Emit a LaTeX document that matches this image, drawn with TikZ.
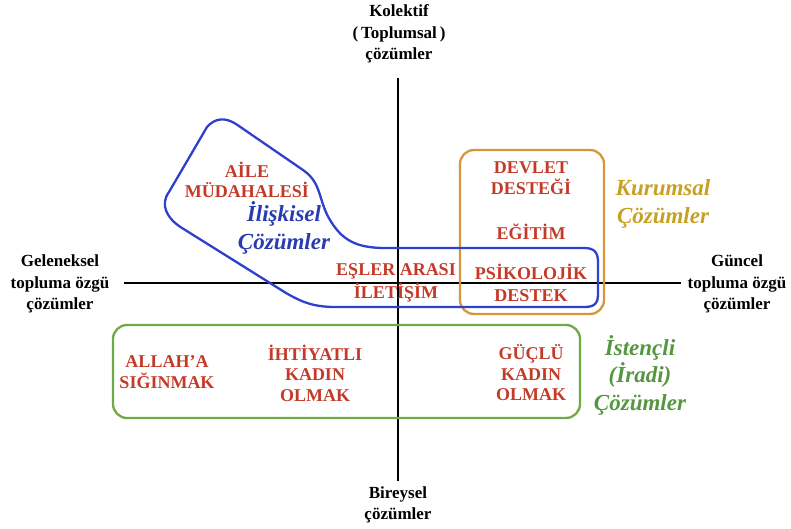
\documentclass[tikz,border=0pt]{standalone}
\usepackage{fontspec}
\setmainfont{Liberation Serif}
\definecolor{itemred}{RGB}{196,58,40}
\definecolor{bluel}{RGB}{45,65,205}
\definecolor{bluet}{RGB}{40,60,175}
\definecolor{orangel}{RGB}{215,150,60}
\definecolor{goldt}{RGB}{200,160,35}
\definecolor{greenl}{RGB}{110,170,70}
\definecolor{greent}{RGB}{85,150,65}
\begin{document}
\begin{tikzpicture}[x=1pt,y=-1pt,
  axislabel/.style={align=center,font=\fontsize{17}{21.3}\selectfont\bfseries,text=black,inner sep=0pt},
  item/.style={align=center,font=\fontsize{18}{20.5}\selectfont\bfseries,text=itemred,inner sep=0pt},
  itemwide/.style={item,font=\fontsize{18}{22.5}\selectfont\bfseries},
  group/.style={align=center,font=\fontsize{23}{27.5}\selectfont\bfseries\itshape,inner sep=0pt},
  axisline/.style={line width=1.8pt,black},
  bound/.style={line width=2.3pt}]
\useasboundingbox (0,0) rectangle (791,529);
% axes
\node[axislabel] (top) at (399,34) {Kolektif\\(\,Toplumsal\,)\\çözümler};
\node[axislabel] (bottom) at (398,505) {Bireysel\\çözümler};
\node[axislabel] (left) at (60,284) {Geleneksel\\topluma özgü\\çözümler};
\node[axislabel] (right) at (737,284) {Güncel\\topluma özgü\\çözümler};
\coordinate (vT) at (398,78);
\coordinate (vB) at (398,481);
\coordinate (hL) at (124,283);
\coordinate (hR) at (681,283);
\draw[axisline] (vT) -- (vB);
\draw[axisline] (hL) -- (hR);
% orange box
\draw[bound,orangel,rounded corners=14pt] (460,150) rectangle (604,314);
% blue shape
\draw[bound,bluel] (207,127) .. controls (215,118) and (225,117) .. (236,124) -- (303,170)
  .. controls (322,183) and (318,200) .. (330,220)
  .. controls (342,240) and (356,248) .. (385,248) -- (584,248)
  .. controls (594,248) and (598,252) .. (598,262) -- (598,294)
  .. controls (598,304) and (594,307) .. (584,307) -- (335,307)
  .. controls (312,307) and (300,301) .. (286,293) -- (182,228)
  .. controls (166,218) and (160,204) .. (169,192) -- cycle;
% green box
\draw[bound,greenl,rounded corners=14pt] (113,325) rectangle (580,418);
% items
\node[item] (aile) at (247,180) {AİLE\\MÜDAHALESİ};
\node[itemwide] (esler) at (396,283) {EŞLER ARASI\\İLETİŞİM};
\node[itemwide] (psiko) at (531,283) {PSİKOLOJİK\\DESTEK};
\node[item] (devlet) at (531,178) {DEVLET\\DESTEĞİ};
\node[item] (egitim) at (531,232) {EĞİTİM};
\node[item] (allah) at (167,372) {ALLAH’A\\SIĞINMAK};
\node[item] (ihti) at (315,373) {İHTİYATLI\\KADIN\\OLMAK};
\node[item] (guclu) at (531,373) {GÜÇLÜ\\KADIN\\OLMAK};
% group labels
\node[group,text=bluet] (iliski) at (284,228) {İlişkisel\\Çözümler};
\node[group,text=goldt] (kurum) at (663,204) {Kurumsal\\Çözümler};
\node[group,text=greent] (isten) at (640,375) {İstençli\\(İradi)\\Çözümler};
\end{tikzpicture}
\end{document}
